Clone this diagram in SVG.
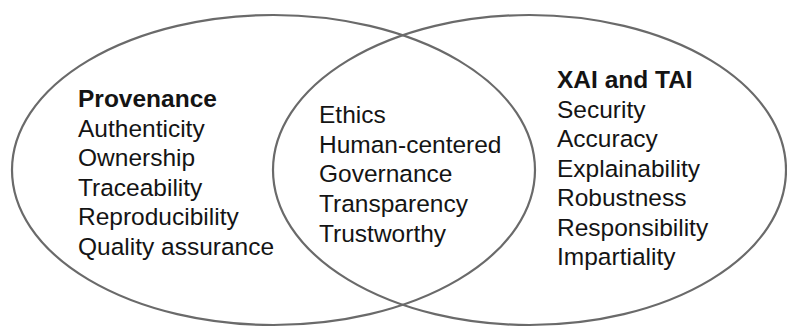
<svg xmlns="http://www.w3.org/2000/svg" width="787" height="327" viewBox="0 0 787 327">
<style>
.ring{fill:none;stroke:#6a6a6a;stroke-width:2.2}
.t{font-family:"Liberation Sans",Arial,sans-serif;font-size:24.5px;fill:#141414}
.b{font-weight:bold}
</style>
<rect width="787" height="327" fill="#ffffff"/>
<g id="provenance">
<ellipse class="ring" cx="273.5" cy="170" rx="261.5" ry="155"/>
<text class="t" x="78"><tspan class="b" x="78" y="107">Provenance</tspan><tspan x="78" y="136.6">Authenticity</tspan><tspan x="78" y="166.2">Ownership</tspan><tspan x="78" y="195.8">Traceability</tspan><tspan x="78" y="225.4">Reproducibility</tspan><tspan x="78" y="255">Quality assurance</tspan></text>
</g>
<g id="xai-tai">
<ellipse class="ring" cx="529.5" cy="170" rx="256.5" ry="155"/>
<text class="t"><tspan class="b" x="557" y="88">XAI and TAI</tspan><tspan x="557" y="117.5">Security</tspan><tspan x="557" y="147">Accuracy</tspan><tspan x="557" y="176.5">Explainability</tspan><tspan x="557" y="206">Robustness</tspan><tspan x="557" y="235.5">Responsibility</tspan><tspan x="557" y="265">Impartiality</tspan></text>
</g>
<g id="overlap">
<text class="t"><tspan x="319" y="123">Ethics</tspan><tspan x="319" y="152.7">Human-centered</tspan><tspan x="319" y="182.4">Governance</tspan><tspan x="319" y="212.1">Transparency</tspan><tspan x="319" y="241.8">Trustworthy</tspan></text>
</g>
<g id="connectors"></g>
</svg>
